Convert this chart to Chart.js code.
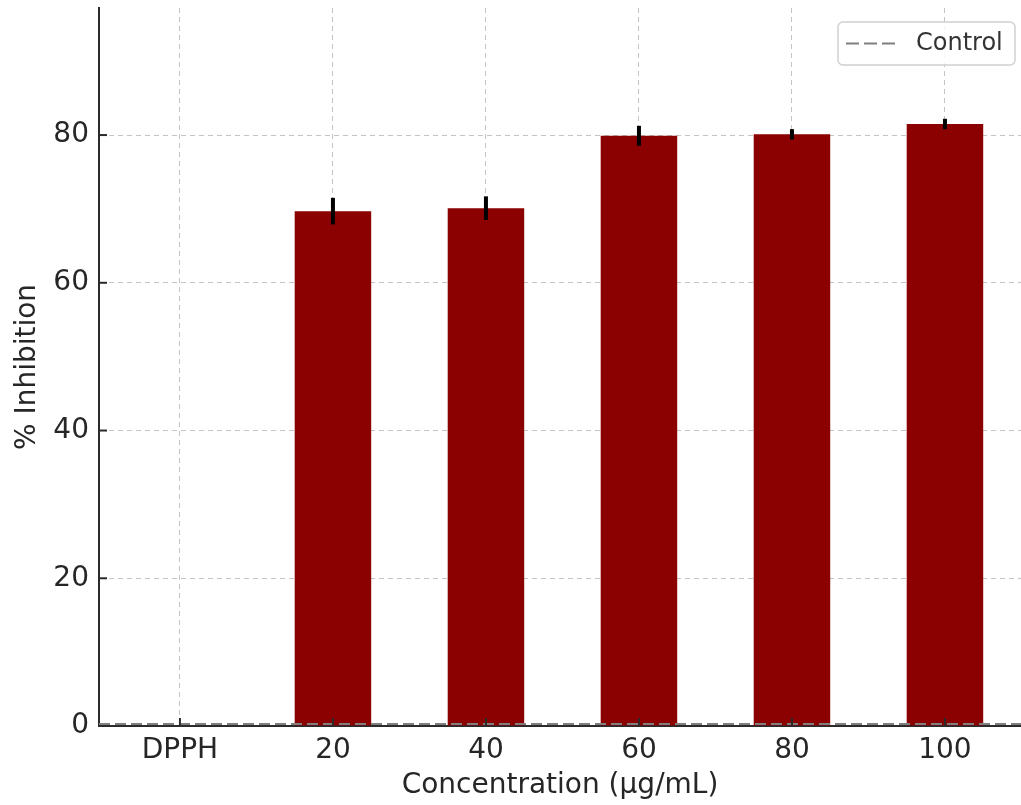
<!DOCTYPE html>
<html lang="en">
<head>
  <meta charset="UTF-8">
  <title>% Inhibition</title>
  <script src="https://cdn.jsdelivr.net/npm/chart.js"></script>
  <style>
    html, body { margin: 0; padding: 0; background: #fff; }
    canvas { display: block; }
  </style>
</head>
<body>
<canvas id="inhChart" width="1021" height="805"></canvas>

<script>
// values
const categories = ['DPPH', '20', '40', '60', '80', '100'];
const inhibition = [0, 69.7, 70.1, 79.9, 80.1, 81.5];
const errors = [0, 1.8, 1.6, 1.35, 0.7, 0.7];
const controlValue = 0;
const yTicks = [0, 20, 40, 60, 80];

const font = 'DejaVu Sans';
const axisColor = '#2b2b2b';

// error bars, control line, inward ticks and legend box
const extras = {
  id: 'extras',
  afterDraw(chart) {
    const ctx = chart.ctx;
    const x = chart.scales.x, y = chart.scales.y;
    const area = chart.chartArea;

    ctx.save();
    // control line
    const yc = y.getPixelForValue(controlValue) - 2;
    ctx.strokeStyle = '#7f7f7f';
    ctx.lineWidth = 2;
    ctx.setLineDash([11, 5]);
    ctx.beginPath();
    ctx.moveTo(area.left, yc);
    ctx.lineTo(area.right, yc);
    ctx.stroke();
    ctx.setLineDash([]);

    // error bars
    ctx.strokeStyle = '#000';
    ctx.lineWidth = 4;
    categories.forEach((c, i) => {
      if (!errors[i]) return;
      const px = x.getPixelForValue(i);
      ctx.beginPath();
      ctx.moveTo(px, y.getPixelForValue(inhibition[i] - errors[i]));
      ctx.lineTo(px, y.getPixelForValue(inhibition[i] + errors[i]));
      ctx.stroke();
    });

    // inward tick marks
    ctx.strokeStyle = axisColor;
    ctx.lineWidth = 2;
    categories.forEach((c, i) => {
      const px = x.getPixelForValue(i);
      ctx.beginPath();
      ctx.moveTo(px, area.bottom);
      ctx.lineTo(px, area.bottom - 8);
      ctx.stroke();
    });
    yTicks.forEach(v => {
      const py = y.getPixelForValue(v);
      ctx.beginPath();
      ctx.moveTo(area.left, py);
      ctx.lineTo(area.left + 8, py);
      ctx.stroke();
    });

    // legend
    const lx = 838, ly = 22, lw = 177, lh = 43;
    ctx.fillStyle = 'rgba(255,255,255,0.85)';
    ctx.strokeStyle = '#d0d0d0';
    ctx.lineWidth = 1.5;
    ctx.beginPath();
    ctx.roundRect(lx, ly, lw, lh, 5);
    ctx.fill();
    ctx.stroke();
    ctx.strokeStyle = '#7f7f7f';
    ctx.lineWidth = 2;
    ctx.setLineDash([13, 5]);
    ctx.beginPath();
    ctx.moveTo(846, ly + lh / 2);
    ctx.lineTo(897, ly + lh / 2);
    ctx.stroke();
    ctx.setLineDash([]);
    ctx.fillStyle = '#333';
    ctx.font = '24px "' + font + '"';
    ctx.textBaseline = 'middle';
    ctx.fillText('Control', 916, ly + lh / 2);
    ctx.restore();
  }
};

new Chart(document.getElementById('inhChart'), {
  type: 'bar',
  data: {
    datasets: [{
      label: '% Inhibition',
      data: categories.map((c, i) => ({ x: i, y: inhibition[i] })),
      backgroundColor: '#8b0000',
      borderWidth: 0,
      barPercentage: 0.5,
      categoryPercentage: 1.0
    }]
  },
  options: {
    responsive: false,
    animation: false,
    devicePixelRatio: 1,
    layout: { padding: { top: 8, left: 0, right: 0, bottom: 0 } },
    plugins: {
      legend: { display: false },
      tooltip: { enabled: false }
    },
    scales: {
      x: {
        type: 'linear',
        min: -0.529,
        max: 5.497,
        offset: false,
        z: 1,
        afterFit: s => { s.height = 79; s.paddingLeft = 0; s.paddingRight = 0; },
        ticks: {
          stepSize: 1,
          includeBounds: false,
          autoSkip: false,
          maxRotation: 0,
          padding: 8,
          color: '#262626',
          font: { family: font, size: 28 },
          callback: v => categories[v]
        },
        grid: { offset: false, color: 'rgba(176,176,176,0.75)', lineWidth: 1, drawTicks: false },
        border: { display: true, color: axisColor, width: 2, dash: [5, 4] },
        title: {
          display: true,
          text: 'Concentration (µg/mL)',
          color: '#262626',
          font: { family: font, size: 28 },
          padding: { top: 0, bottom: 2 }
        }
      },
      y: {
        min: 0,
        max: 97.2,
        z: 1,
        afterFit: s => { s.width = 99; s.paddingTop = 0; s.paddingBottom = 0; },
        ticks: {
          stepSize: 20,
          includeBounds: false,
          padding: 10,
          color: '#262626',
          font: { family: font, size: 28 }
        },
        grid: { color: 'rgba(176,176,176,0.75)', lineWidth: 1, drawTicks: false },
        border: { display: true, color: axisColor, width: 2, dash: [5, 4] },
        title: {
          display: true,
          text: '% Inhibition',
          color: '#262626',
          font: { family: font, size: 28 },
          padding: { top: 11, bottom: 0 }
        }
      }
    }
  },
  plugins: [extras]
});
</script>
</body>
</html>
